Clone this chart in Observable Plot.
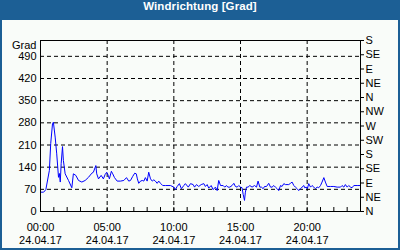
<!DOCTYPE html>
<html>
<head>
<meta charset="utf-8">
<script src="https://cdn.jsdelivr.net/npm/d3@7"></script>
<script src="https://cdn.jsdelivr.net/npm/@observablehq/plot@0.6"></script>
<style>
  html, body { margin: 0; padding: 0; background: #ffffff; }
  #box { position: relative; width: 400px; height: 250px; background: #1c5f95; box-sizing: border-box; overflow: hidden; }
  #title { height: 20px; line-height: 20px; text-align: center; color: #ffffff; font: bold 11.5px "Liberation Sans", Arial, sans-serif; letter-spacing: 0.1px; }
  #inner { margin: 0 2px; width: 396px; height: 228px; background: #f9fcf9; }
  #inner svg { display: block; }
</style>
</head>
<body>
<div id="box">
  <div id="title">Windrichtung [Grad]</div>
  <div id="inner"></div>
</div>
<script>
const chartDate = "24.04.17";
const times = ["00:03","00:14","00:24","00:40","00:46","00:54","00:58","01:06","01:13","01:21","01:25","01:29","01:33","01:39","01:43","01:51","02:06","02:21","02:28","02:39","02:51","03:06","03:21","03:36","03:51","03:58","04:09","04:13","04:21","04:33","04:43","04:51","04:58","05:05","05:10","05:19","05:25","05:33","05:45","06:00","06:15","06:27","06:37","06:45","06:55","07:04","07:11","07:16","07:22","07:30","07:38","07:45","07:52","08:00","08:07","08:15","08:23","08:30","08:37","08:45","08:52","09:00","09:10","09:22","09:45","10:00","10:07","10:15","10:25","10:34","10:45","10:52","11:05","11:15","11:27","11:33","11:42","11:52","12:03","12:15","12:22","12:30","12:37","12:48","12:57","13:07","13:15","13:22","13:30","13:42","13:49","13:57","14:03","14:12","14:22","14:30","14:37","14:45","14:52","15:00","15:07","15:12","15:18","15:22","15:27","15:34","15:42","15:52","16:03","16:12","16:19","16:27","16:34","16:42","16:48","16:57","17:07","17:15","17:22","17:30","17:37","17:45","17:52","18:00","18:07","18:15","18:22","18:37","18:45","18:52","19:00","19:07","19:15","19:22","19:30","19:37","19:45","19:49","19:56","20:01","20:07","20:15","20:22","20:30","20:37","20:45","20:52","21:00","21:07","21:15","21:22","21:30","21:45","22:00","22:15","22:30","22:37","22:45","22:52","23:00","23:07","23:15","23:22","23:30","23:45","24:00"];
const direction = [61,61,69,130,215,277,282,235,182,108,120,93,151,205,161,119,98,75,119,114,98,93,98,108,121,124,145,119,103,114,103,117,124,114,103,127,119,107,96,96,98,107,96,98,111,121,119,103,89,96,98,96,107,96,124,103,96,100,96,89,96,89,82,82,82,77,69,79,88,72,82,88,77,88,85,77,85,79,85,88,79,85,74,82,69,77,66,98,82,82,77,82,77,77,82,89,79,77,82,77,75,54,35,61,77,77,82,77,82,77,96,77,77,72,79,79,89,77,77,82,77,72,66,82,79,88,85,85,89,93,82,77,72,66,72,77,82,75,77,72,88,77,82,77,72,77,75,82,93,107,93,79,79,79,77,77,82,77,85,77,82,77,75,82,82,82];
const gradTicks = [0,70,140,210,280,350,420,490];
const compassDegrees = [0,45,90,135,180,225,270,315,360,405,450,495,540];
const compassLabels = ["N","NE","E","SE","S","SW","W","NW","N","NE","E","SE","S"];
const hourLabels = ["00:00","05:00","10:00","15:00","20:00"];

function toDate(hm) {
  const [h, m] = hm.split(":").map(Number);
  return new Date(2017, 3, 24, h, m);
}
const data = times.map((t, i) => ({time: toDate(t), value: direction[i]}));
const startDay = new Date(2017, 3, 24, 0, 0);
const endDay = new Date(2017, 3, 25, 0, 0);
const labelTicks = hourLabels.map(toDate);
const hourTicks = d3.timeHour.range(startDay, endDay);
const yMax = compassDegrees[compassDegrees.length - 1];

const chart = Plot.plot({
  width: 396,
  height: 228,
  marginLeft: 38,
  marginRight: 38,
  marginTop: 20,
  marginBottom: 37,
  style: {fontFamily: "'Liberation Sans', Arial, sans-serif", fontSize: "11px", background: "transparent", color: "black", overflow: "visible"},
  x: {type: "time", domain: [startDay, endDay]},
  y: {domain: [0, yMax]},
  marks: [
    Plot.gridY(gradTicks.filter(d => d > 0), {stroke: "black", strokeOpacity: 1, strokeDasharray: "4,3"}),
    Plot.gridX(labelTicks.slice(1), {stroke: "black", strokeOpacity: 1, strokeDasharray: "4,3"}),
    Plot.tickX(hourTicks, {x: d => d, stroke: "black", insetTop: 167}),
    Plot.line(data, {x: "time", y: "value", stroke: "#0000ff", strokeWidth: 1}),
    Plot.frame({stroke: "black"}),
    Plot.axisY(gradTicks, {anchor: "left", tickSize: 0, tickPadding: 4, label: null}),
    Plot.axisY(compassDegrees, {anchor: "right", tickSize: 3, tickPadding: 2, label: null,
      tickFormat: d => compassLabels[compassDegrees.indexOf(d)]}),
    Plot.axisX(labelTicks, {anchor: "bottom", tickSize: 0, tickPadding: 10, label: null, lineHeight: 1.2,
      tickFormat: (d, i) => hourLabels[i] + "\n" + chartDate}),
    Plot.text(["Grad"], {frameAnchor: "top-left", dx: -4, dy: 5, textAnchor: "end", lineAnchor: "middle", fill: "black"})
  ]
});
document.getElementById("inner").appendChild(chart);
</script>
</body>
</html>
